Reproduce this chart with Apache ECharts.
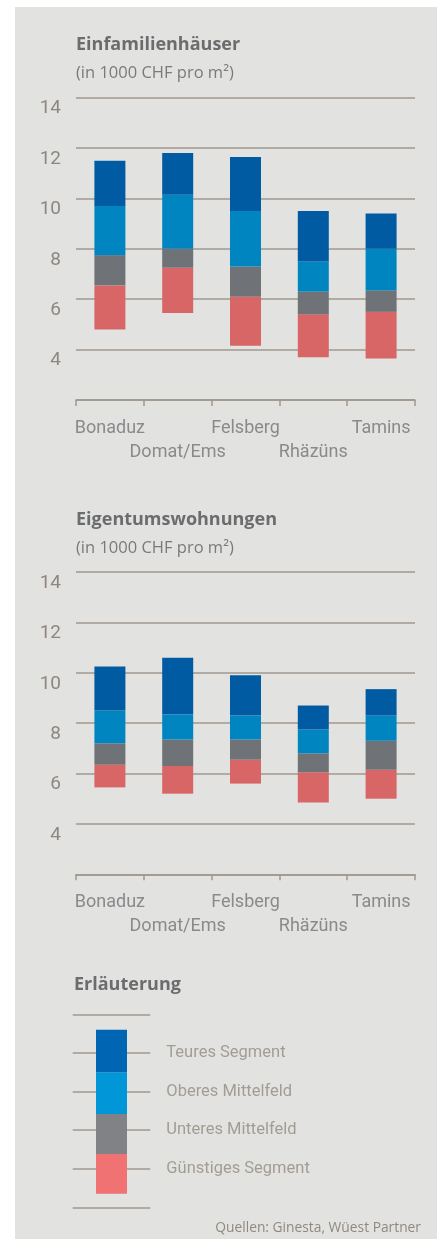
<!DOCTYPE html>
<html lang="de">
<head>
    <meta charset="UTF-8">
    <title>Preise Wohneigentum</title>
    <style>
        body { margin: 0; background: #ffffff; }
        #chart { position: absolute; left: 15px; top: 7px; width: 422px; height: 1232px; }
    </style>
</head>
<body>
<div id="chart"></div>

<script src="https://cdn.jsdelivr.net/npm/echarts@6/dist/echarts.min.js"></script>
<script>
    // Gemeinden
    var towns = ['Bonaduz', 'Domat/Ems', 'Felsberg', 'Rhäzüns', 'Tamins'];

    // Einfamilienhäuser: Untergrenze und Obergrenzen der Segmente (1000 CHF/m²)
    var efhMin      = [4.8, 5.45, 4.15, 3.7, 3.65];
    var efhGuenstig = [6.55, 7.25, 6.1, 5.4, 5.5];
    var efhUnteres  = [7.75, 8.0, 7.3, 6.3, 6.35];
    var efhOberes   = [9.7, 10.15, 9.5, 7.5, 8.0];
    var efhTeures   = [11.5, 11.8, 11.65, 9.5, 9.4];

    // Eigentumswohnungen
    var etwMin      = [5.45, 5.2, 5.6, 4.85, 5.0];
    var etwGuenstig = [6.35, 6.3, 6.55, 6.05, 6.15];
    var etwUnteres  = [7.2, 7.35, 7.35, 6.8, 7.3];
    var etwOberes   = [8.5, 8.35, 8.3, 7.75, 8.3];
    var etwTeures   = [10.25, 10.6, 9.9, 8.7, 9.35];

    // Legende
    var keyNames  = ['Günstiges Segment', 'Unteres Mittelfeld', 'Oberes Mittelfeld', 'Teures Segment'];
    var keyLevels = [0.35, 1.38, 2.42, 3.5, 4.6];

    var barColors = ['#d96666', '#6f7276', '#0085c0', '#005ba2'];
    var keyColors = ['#f07272', '#808285', '#0096d7', '#0066b3'];

    var font = 'Roboto';
    var headFont = 'Open Sans';
    var lineCol = '#a0988f';

    function diff(a, b) {
        return a.map(function (v, i) { return +(v - b[i]).toFixed(2); });
    }

    function stackSeries(levels, idx, stack, colors) {
        var list = [{
            type: 'bar', stack: stack, xAxisIndex: idx, yAxisIndex: idx,
            barWidth: 31, silent: true,
            itemStyle: { color: 'transparent' },
            data: levels[0]
        }];
        for (var i = 1; i < levels.length; i++) {
            list.push({
                type: 'bar', stack: stack, xAxisIndex: idx, yAxisIndex: idx,
                barWidth: 31,
                itemStyle: { color: colors[i - 1] },
                data: diff(levels[i], levels[i - 1])
            });
        }
        return list;
    }

    function catAxis(idx) {
        return {
            type: 'category', gridIndex: idx, data: towns, boundaryGap: true,
            axisLine: { show: true, lineStyle: { color: lineCol, width: 1.5 } },
            axisTick: { show: true, alignWithLabel: false, interval: 0, length: 6, lineStyle: { color: lineCol, width: 1.5 } },
            axisLabel: {
                interval: 0, margin: 16, fontFamily: font, fontSize: 18,
                color: '#898a8c', lineHeight: 24, verticalAlign: 'top',
                formatter: function (v, i) { return i % 2 ? '\n' + v : v; }
            }
        };
    }

    function valAxis(idx) {
        return {
            type: 'value', gridIndex: idx, min: 2, max: 14, interval: 2,
            axisLine: { show: false }, axisTick: { show: false },
            splitLine: { lineStyle: { color: lineCol, width: 1.5 } },
            axisLabel: {
                margin: 15, fontFamily: font, fontSize: 19, color: '#8e8680',
                verticalAlign: 'top', lineHeight: 22,
                formatter: function (v) { return v === 2 ? '' : v; }
            }
        };
    }

    var titleStyle = { fontFamily: headFont, fontSize: 18, fontWeight: 'bold', color: '#6b6c6e', lineHeight: 22 };
    var subStyle = { fontFamily: headFont, fontSize: 16.5, fontWeight: 'normal', color: '#7a7a7a', lineHeight: 20 };

    var myChart = echarts.init(document.getElementById('chart'));
    var option = {
        backgroundColor: '#e2e3e0',
        animation: false,
        title: [
            { text: 'Einfamilienhäuser', left: 61, top: 27, padding: 0, textStyle: titleStyle },
            { text: '(in 1000 CHF pro m²)', left: 61, top: 56, padding: 0, textStyle: subStyle },
            { text: 'Eigentumswohnungen', left: 61, top: 502, padding: 0, textStyle: titleStyle },
            { text: '(in 1000 CHF pro m²)', left: 61, top: 531, padding: 0, textStyle: subStyle },
            { text: 'Erläuterung', left: 59, top: 967, padding: 0, textStyle: titleStyle },
            {
                text: 'Quellen: Ginesta, Wüest Partner', right: 16, top: 1212, padding: 0,
                textStyle: { fontFamily: headFont, fontSize: 13.8, fontWeight: 'normal', color: '#8f8880', lineHeight: 18 }
            }
        ],
        grid: [
            { left: 61, right: 22, top: 90.7, height: 302.3 },
            { left: 61, right: 22, top: 565, height: 302.3 },
            { left: 57.7, right: 286.7, top: 1007.3, height: 193 }
        ],
        xAxis: [
            catAxis(0),
            catAxis(1),
            {
                type: 'category', gridIndex: 2, data: [''],
                axisLine: { show: false }, axisTick: { show: false }, axisLabel: { show: false }
            }
        ],
        yAxis: [
            valAxis(0),
            valAxis(1),
            {
                type: 'value', gridIndex: 2, position: 'right', min: 0, max: 5, interval: 1,
                axisLine: { show: false }, axisTick: { show: false },
                splitLine: { lineStyle: { color: lineCol, width: 1.5 } },
                axisLabel: {
                    margin: 16, fontFamily: font, fontSize: 16.5, color: '#a39c95',
                    formatter: function (v) { return keyNames[v - 1] || ''; }
                }
            }
        ],
        series: []
            .concat(stackSeries([efhMin, efhGuenstig, efhUnteres, efhOberes, efhTeures], 0, 'efh', barColors))
            .concat(stackSeries([etwMin, etwGuenstig, etwUnteres, etwOberes, etwTeures], 1, 'etw', barColors))
            .concat(stackSeries(keyLevels.map(function (v) { return [v]; }), 2, 'key', keyColors))
    };
    myChart.setOption(option);
</script>
</body>
</html>
